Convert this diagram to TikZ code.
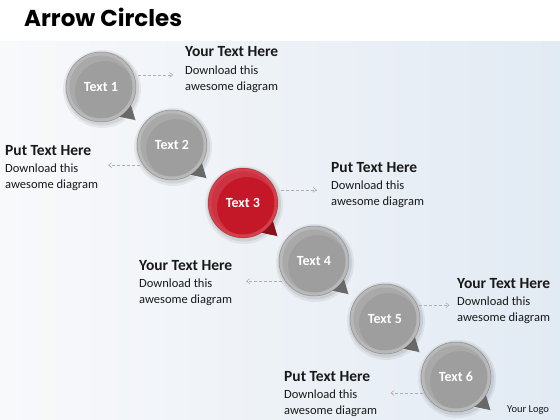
\documentclass[tikz,border=0pt]{standalone}
\usepackage{fontspec}
\setmainfont{Carlito}
\newfontfamily\titlefont{Poppins}
\usepackage{xcolor}
\definecolor{bgblue}{RGB}{226,234,243}
\definecolor{bgwhite}{RGB}{248,249,251}
\definecolor{rimgray}{RGB}{184,184,184}
\definecolor{fillgray}{RGB}{158,158,158}
\definecolor{tailgray}{RGB}{105,105,105}
\definecolor{rimred}{RGB}{214,62,74}
\definecolor{fillred}{RGB}{196,24,40}
\definecolor{tailred}{RGB}{138,16,26}
\definecolor{dashgray}{RGB}{175,175,175}
\definecolor{textgray}{RGB}{25,25,25}
\usetikzlibrary{positioning, calc, arrows.meta}
\tikzstyle{Bubble} = [
circle,
minimum size=70pt,
inner sep=0pt,
text=white,
font=\bfseries\fontsize{14}{16}\selectfont]
\tikzstyle{Head} = [
anchor=base west,
inner sep=0pt,
text=textgray,
font=\bfseries\fontsize{15.5}{18}\selectfont]
\tikzstyle{Body} = [
align=left,
inner sep=0pt,
text=textgray,
font=\fontsize{12.5}{15.5}\selectfont]
\tikzstyle{DashArrow} = [
dashgray,
densely dashed,
line width=0.6pt,
-{Straight Barb[length=3pt, width=5pt]}]
% bubble body: coordinate name, position, rim, fill, tail
\newcommand{\bubble}[5]{%
  \coordinate (#1) at (#2);
  \fill[black, opacity=0.06] ($(#1)+(1,-2)$) circle (39pt);
  \fill[black, opacity=0.08] ($(#1)+(1,-1.5)$) circle (37pt);
  \fill[#5] ($(#1)+(-28:33)$) -- ($(#1)+(-44:48)$) -- ($(#1)+(-62:33)$) -- cycle;
  \draw[white, opacity=0.5, line width=0.6pt] ($(#1)+(-62:34)$) -- ($(#1)+(-44:48)$);
  \fill[#3] (#1) circle (35pt);
  \draw[black, opacity=0.25, line width=0.5pt] (#1) circle (35pt);
  \fill[#4] (#1) circle (31.5pt);
  \begin{scope}
    \clip (#1) circle (31.5pt);
    \fill[white, opacity=0.12, even odd rule] (#1) circle (31.5pt) ($(#1)+(4,-4)$) circle (30pt);
  \end{scope}
}

\begin{document}
\begin{tikzpicture}[x=1pt, y=1pt]
    \useasboundingbox (0,0) rectangle (560,-420);
    \fill[white] (0,0) rectangle (560,-420);
    \shade[left color=bgwhite, right color=bgblue] (0,-42) rectangle (560,-420);

    \node[anchor=base west, inner sep=0pt, font=\titlefont\bfseries\fontsize{23}{27}\selectfont] (title) at (24,-27) {Arrow Circles};

    \bubble{c1}{101,-87}{rimgray}{fillgray}{tailgray}
    \bubble{c2}{172,-145}{rimgray}{fillgray}{tailgray}
    \bubble{c3}{243,-203}{rimred}{fillred}{tailred}
    \bubble{c4}{314,-261}{rimgray}{fillgray}{tailgray}
    \bubble{c5}{385,-319}{rimgray}{fillgray}{tailgray}
    \bubble{c6}{456,-377}{rimgray}{fillgray}{tailgray}

    \node[Bubble] (t1) at (c1) {Text 1};
    \node[Bubble] (t2) at (c2) {Text 2};
    \node[Bubble] (t3) at (c3) {Text 3};
    \node[Bubble] (t4) at (c4) {Text 4};
    \node[Bubble] (t5) at (c5) {Text 5};
    \node[Bubble] (t6) at (c6) {Text 6};

    \node[Head] (h1) at (185,-57) {Your Text Here};
    \node[Body, below=9pt of h1.base west, anchor=north west] (b1) {Download this\\awesome diagram};
    \node[Head] (h2) at (5,-155) {Put Text Here};
    \node[Body, below=9pt of h2.base west, anchor=north west] (b2) {Download this\\awesome diagram};
    \node[Head] (h3) at (331,-172) {Put Text Here};
    \node[Body, below=9pt of h3.base west, anchor=north west] (b3) {Download this\\awesome diagram};
    \node[Head] (h4) at (139,-270) {Your Text Here};
    \node[Body, below=9pt of h4.base west, anchor=north west] (b4) {Download this\\awesome diagram};
    \node[Head] (h5) at (457,-288) {Your Text Here};
    \node[Body, below=9pt of h5.base west, anchor=north west] (b5) {Download this\\awesome diagram};
    \node[Head] (h6) at (284,-381) {Put Text Here};
    \node[Body, below=9pt of h6.base west, anchor=north west] (b6) {Download this\\awesome diagram};

    \node[anchor=base west, inner sep=0pt, text=textgray, font=\fontsize{10.5}{12}\selectfont] (logo) at (507,-412) {Your Logo};

    \draw[DashArrow] ([xshift=4pt]t1.20) -- ++(35,0);
    \draw[DashArrow] ([xshift=-3pt]t2.215) -- ++(-32,0);
    \draw[DashArrow] ([xshift=5pt]t3.22) -- ++(36,0);
    \draw[DashArrow] ([xshift=-3pt]t4.215) -- ++(-36,0);
    \draw[DashArrow] ([xshift=2pt]t5.23) -- ++(30,0);
    \draw[DashArrow] ([xshift=-2pt]t6.207) -- ++(-32,0);
\end{tikzpicture}
\end{document}
